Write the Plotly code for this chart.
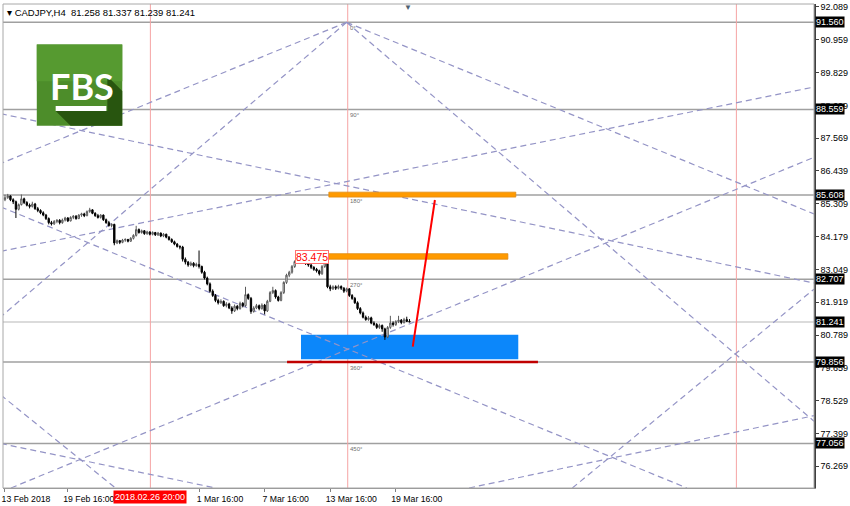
import plotly.graph_objects as go

# ---------------- data ----------------
symbol_title = "CADJPY,H4  81.258 81.337 81.239 81.241"

opens = [85.45,85.52,85.58,85.45,85.38,85.12,85.28,85.48,85.35,85.26,
         85.22,85.30,85.14,85.08,85.00,84.92,84.80,84.66,84.62,84.70,
         84.74,84.66,84.75,84.82,84.72,84.84,84.88,84.80,84.92,84.96,
         84.90,85.04,85.10,84.98,84.90,84.84,84.92,84.76,84.66,84.56,
         84.60,83.96,84.04,83.98,84.06,84.08,84.02,84.12,84.22,84.42,
         84.32,84.38,84.28,84.34,84.26,84.32,84.24,84.30,84.20,84.26,
         84.16,84.08,84.00,83.92,83.84,83.82,83.40,83.30,83.20,83.26,
         83.18,83.22,83.15,82.95,82.75,82.55,82.30,82.15,81.98,81.90,
         81.95,81.80,81.86,81.72,81.62,81.78,81.70,81.88,81.80,82.18,
         82.05,81.60,81.72,81.80,81.70,81.82,81.62,81.95,82.25,82.32,
         82.10,81.98,82.25,82.60,82.85,82.95,83.15,83.32,83.40,83.30,
         83.36,83.25,83.20,83.12,83.05,83.00,82.90,83.15,83.38,82.45,
         82.38,82.45,82.40,82.46,82.40,82.30,82.38,82.15,82.05,81.90,
         81.70,81.55,81.40,81.32,81.38,81.20,81.15,81.05,81.12,81.00,
         80.72,81.05,81.20,81.15,81.25,81.30,81.22,81.32,81.258]
highs = [85.62,85.65,85.60,85.50,85.42,85.32,85.63,85.52,85.40,85.32,
         85.38,85.34,85.20,85.12,85.05,84.96,84.84,84.72,84.75,84.78,
         84.78,84.80,84.86,84.85,84.88,84.92,84.92,84.95,85.00,85.00,
         85.08,85.17,85.12,85.02,84.96,84.95,84.94,84.80,84.72,84.64,
         84.62,84.08,84.06,84.10,84.12,84.10,84.16,84.26,84.55,84.46,
         84.42,84.40,84.38,84.36,84.36,84.34,84.34,84.32,84.30,84.28,
         84.20,84.12,84.04,83.96,83.88,83.86,83.46,83.34,83.32,83.30,
         83.28,83.70,83.18,83.00,82.80,82.60,82.36,82.20,82.04,82.02,
         81.98,81.92,81.90,81.78,81.84,81.82,81.94,81.92,82.45,82.22,
         82.10,81.78,81.86,81.84,81.88,81.86,82.00,82.30,82.45,82.36,
         82.14,82.30,82.64,82.90,83.00,83.20,83.36,83.47,83.44,83.42,
         83.40,83.30,83.24,83.16,83.10,83.04,83.20,83.475,83.40,82.52,
         82.50,82.50,82.52,82.50,82.44,82.42,82.40,82.20,82.10,81.95,
         81.75,81.60,81.46,81.44,81.42,81.26,81.20,81.18,81.15,81.04,
         81.10,81.45,81.26,81.30,81.45,81.34,81.38,81.42,81.337]
lows = [85.40,85.48,85.40,85.30,84.82,85.08,85.25,85.30,85.22,85.15,
        85.18,85.10,85.02,84.95,84.88,84.75,84.60,84.56,84.58,84.64,
        84.60,84.62,84.70,84.68,84.70,84.78,84.76,84.78,84.86,84.85,
        84.88,85.00,84.95,84.86,84.80,84.80,84.72,84.62,84.52,84.50,
        83.88,83.92,83.92,83.95,84.00,83.98,84.00,84.08,84.18,84.28,
        84.28,84.24,84.24,84.22,84.22,84.20,84.20,84.16,84.16,84.12,
        84.04,83.96,83.88,83.80,83.74,83.32,83.22,83.14,83.16,83.12,
        83.14,83.08,82.90,82.70,82.50,82.25,82.10,81.92,81.84,81.86,
        81.76,81.74,81.68,81.52,81.58,81.64,81.66,81.74,81.76,82.00,
        81.52,81.56,81.68,81.64,81.66,81.50,81.58,81.92,82.20,82.04,
        81.94,81.95,82.20,82.55,82.78,82.90,83.10,83.26,83.24,83.26,
        83.20,83.14,83.06,83.00,82.94,82.84,82.86,83.10,82.40,82.30,
        82.34,82.34,82.36,82.34,82.24,82.26,82.10,82.00,81.86,81.65,
        81.50,81.36,81.28,81.28,81.16,81.10,81.00,81.00,80.90,80.62,
        80.68,81.00,81.08,81.10,81.20,81.16,81.18,81.24,81.239]
closes = [85.52,85.58,85.45,85.38,85.12,85.28,85.48,85.35,85.26,85.22,
          85.30,85.14,85.08,85.00,84.92,84.80,84.66,84.62,84.70,84.74,
          84.66,84.75,84.82,84.72,84.84,84.88,84.80,84.92,84.96,84.90,
          85.04,85.10,84.98,84.90,84.84,84.92,84.76,84.66,84.56,84.60,
          83.96,84.04,83.98,84.06,84.08,84.02,84.12,84.22,84.42,84.32,
          84.38,84.28,84.34,84.26,84.32,84.24,84.30,84.20,84.26,84.16,
          84.08,84.00,83.92,83.84,83.82,83.40,83.30,83.20,83.26,83.18,
          83.22,83.15,82.95,82.75,82.55,82.30,82.15,81.98,81.90,81.95,
          81.80,81.86,81.72,81.62,81.78,81.70,81.88,81.80,82.18,82.05,
          81.60,81.72,81.80,81.70,81.82,81.62,81.95,82.25,82.32,82.10,
          81.98,82.25,82.60,82.85,82.95,83.15,83.32,83.40,83.30,83.36,
          83.25,83.20,83.12,83.05,83.00,82.90,83.15,83.38,82.45,82.38,
          82.45,82.40,82.46,82.40,82.30,82.38,82.15,82.05,81.90,81.70,
          81.55,81.40,81.32,81.38,81.20,81.15,81.05,81.12,81.00,80.72,
          81.05,81.20,81.15,81.25,81.30,81.22,81.32,81.258,81.241]
bars = list(range(len(opens)))

# time axis labels (bar index -> label)
time_ticks = [0, 23, 71, 95, 119, 143]
time_labels = ["13 Feb 2018", "19 Feb 16:00", "1 Mar 16:00", "7 Mar 16:00",
               "13 Mar 16:00", "19 Mar 16:00"]

# price axis labels
price_ticks = [92.089, 90.959, 89.829, 88.699, 87.569, 86.439, 85.309, 84.179,
               83.049, 81.919, 80.789, 79.659, 78.529, 77.399, 76.269]

# horizontal levels with degree labels
levels = [91.560, 88.559, 85.608, 82.707, 79.856, 77.056]
level_degrees = ["0°", "90°", "180°", "270°", "360°", "450°"]
bid_price = 81.241

# vertical lines (bar index)
vline_bars = [53.2, 125.4, 267.6]
vline_label = "2018.02.26 20:00"

# Gann-style dashed lines: (bar0, price0) -> (bar1, price1)
gann_x0 = [125, 125, 125, 125, -1.5, -1.5, -1.5, 2.2, -1.5, 169.8, 207.6, -1.5]
gann_p0 = [91.56, 91.56, 91.56, 91.56, 88.41, 83.67, 85.20, 75.52, 78.72, 75.52, 75.52, 77.05]
gann_x1 = [-1.5, -1.5, 296, 296, 296, 296, 249.5, 296, 40.4, 296, 296, 77.1]
gann_p1 = [86.70, 81.42, 84.96, 77.82, 82.58, 89.33, 75.52, 86.91, 75.52, 78.01, 82.37, 75.52]

# zones (bar0, bar1, price_low, price_high)
orange_zones = [(118.5, 186.9, 85.54, 85.71), (118.4, 184.0, 83.40, 83.59)]
blue_zone = (108.3, 187.8, 79.95, 80.80)
support_line = (103.2, 195.0, 79.856)
arrow_line = (149.2, 80.39, 157.3, 85.44)
high_label = (112.4, 83.46, "83.475")

X_RANGE = [-0.727, 296.0]
Y_RANGE = [75.519, 92.191]

# ---------------- figure ----------------
fig = go.Figure()
fig.add_trace(go.Candlestick(
    x=bars, open=opens, high=highs, low=lows, close=closes,
    increasing=dict(line=dict(color="#5a5a5a", width=1), fillcolor="white"),
    decreasing=dict(line=dict(color="black", width=1), fillcolor="black"),
    whiskerwidth=0, showlegend=False, hoverinfo="skip"))

shapes = []
# blue zone (behind)
shapes.append(dict(type="rect", xref="x", yref="y", x0=blue_zone[0], x1=blue_zone[1],
                   y0=blue_zone[2], y1=blue_zone[3], fillcolor="#0c87fa",
                   line=dict(width=0), layer="below"))
# horizontal levels
for lv in levels:
    shapes.append(dict(type="line", xref="paper", yref="y", x0=0, x1=1, y0=lv, y1=lv,
                       line=dict(color="#a0a0a0", width=1.5), layer="below"))
shapes.append(dict(type="line", xref="paper", yref="y", x0=0, x1=1, y0=bid_price, y1=bid_price,
                   line=dict(color="#cfcfcf", width=1.5), layer="below"))
# vertical lines
for vb in vline_bars:
    shapes.append(dict(type="line", xref="x", yref="paper", x0=vb, x1=vb, y0=0, y1=1,
                       line=dict(color="#f5a3a3", width=1), layer="below"))
# gann lines
for a, b, c, d in zip(gann_x0, gann_p0, gann_x1, gann_p1):
    shapes.append(dict(type="line", xref="x", yref="y", x0=a, y0=b, x1=c, y1=d,
                       line=dict(color="#9494c6", width=1.2, dash="6px,4px"), layer="below"))
# orange zones
for z in orange_zones:
    shapes.append(dict(type="rect", xref="x", yref="y", x0=z[0], x1=z[1], y0=z[2], y1=z[3],
                       fillcolor="#ff9a00", line=dict(color="#e08a10", width=0.8), layer="above"))
# support line
shapes.append(dict(type="line", xref="x", yref="y", x0=support_line[0], x1=support_line[1],
                   y0=support_line[2], y1=support_line[2],
                   line=dict(color="#c00000", width=2.5), layer="above"))
# red projection line
shapes.append(dict(type="line", xref="x", yref="y", x0=arrow_line[0], y0=arrow_line[1],
                   x1=arrow_line[2], y1=arrow_line[3],
                   line=dict(color="#ff0000", width=2), layer="above"))

# logo in pixel space converted to paper
def P(px, py):
    return (px - 2) / 816.0, (491 - py) / 489.0

def rect_px(x0, y0, x1, y1, color):
    a = P(x0, y0); b = P(x1, y1)
    return dict(type="rect", xref="paper", yref="paper", x0=a[0], y0=b[1], x1=b[0], y1=a[1],
                fillcolor=color, line=dict(width=0), layer="above")

shapes.append(rect_px(36, 43, 122, 125, "#4d8d2a"))
shapes.append(rect_px(36, 43, 122, 80, "#569a30"))
shadow_pts = [(104, 72), (122, 90), (122, 125), (70, 125), (55, 110), (107, 110), (107, 75)]
path = "M " + " L ".join(f"{P(x, y)[0]:.5f},{P(x, y)[1]:.5f}" for x, y in shadow_pts) + " Z"
shapes.append(dict(type="path", xref="paper", yref="paper", path=path,
                   fillcolor="#28550f", line=dict(width=0), layer="above"))
shapes.append(rect_px(55, 105, 106, 110, "white"))
# outer border
shapes.append(dict(type="rect", xref="paper", yref="paper", x0=0, x1=1, y0=0, y1=1,
                   line=dict(color="#a8a8a8", width=1), layer="above"))

annotations = []
FONT = "Liberation Sans, Arial, sans-serif"
# title
annotations.append(dict(xref="paper", yref="paper", x=0.003, y=1, xanchor="left", yanchor="top",
                        yshift=-1, text="▾ " + symbol_title, showarrow=False,
                        font=dict(family=FONT, size=9.5, color="black")))
# top marker
annotations.append(dict(xref="paper", yref="paper", x=P(409, 0)[0], y=1, xanchor="center",
                        yanchor="top", yshift=3, text="▼", showarrow=False,
                        font=dict(family=FONT, size=8, color="#4f6070")))
# logo text
lx, ly = P(81, 85)
annotations.append(dict(xref="paper", yref="paper", x=lx, y=ly, xanchor="center", yanchor="middle",
                        text="<b>FBS</b>", showarrow=False,
                        font=dict(family="Lato, Roboto, sans-serif", size=36, color="white")))
# price boxes on the right axis
for p in levels[:4] + [bid_price] + levels[4:]:
    annotations.append(dict(xref="paper", yref="y", x=1, y=p, xanchor="left", yanchor="middle",
                            xshift=1, text=f"{p:.3f}", showarrow=False, bgcolor="black",
                            borderpad=0, font=dict(family=FONT, size=9, color="white")))
# degree labels
for lv, t in zip(levels, level_degrees):
    annotations.append(dict(xref="x", yref="y", x=vline_bars[1], y=lv, xanchor="left",
                            yanchor="top", yshift=-1, text=t, showarrow=False,
                            font=dict(family=FONT, size=6, color="#707070")))
# high label
annotations.append(dict(xref="x", yref="y", x=high_label[0], y=high_label[1], text=high_label[2],
                        showarrow=False, bgcolor="white", bordercolor="#ff7070", borderwidth=1,
                        borderpad=0, font=dict(family=FONT, size=10.5, color="#ff0000")))
# vertical-line date label
annotations.append(dict(xref="x", yref="paper", x=vline_bars[0], y=0, yanchor="top", yshift=-2,
                        text=vline_label, showarrow=False, bgcolor="#ff0000", borderpad=1,
                        font=dict(family=FONT, size=9, color="white")))

fig.update_layout(
    width=850, height=506,
    margin=dict(l=2, r=32, t=2, b=15),
    paper_bgcolor="white", plot_bgcolor="white",
    shapes=shapes, annotations=annotations,
    showlegend=False,
    xaxis=dict(range=X_RANGE, rangeslider=dict(visible=False), showgrid=False, zeroline=False,
               tickmode="array", tickvals=time_ticks, ticktext=time_labels,
               ticks="outside", ticklen=3, tickcolor="#808080", ticklabelshift=21,
               ticklabeloverflow="allow",
               showline=True, linecolor="#909090", linewidth=1,
               tickfont=dict(family=FONT, size=8.7, color="black")),
    yaxis=dict(range=Y_RANGE, side="right", showgrid=False, zeroline=False,
               tickmode="array", tickvals=price_ticks,
               ticktext=[f"{v:.3f}" for v in price_ticks],
               ticks="outside", ticklen=3, tickcolor="#404040",
               showline=True, linecolor="#404040", linewidth=1.5,
               tickfont=dict(family=FONT, size=9, color="black")),
)

fig.write_html("out.html", config={"displayModeBar": False},
               post_script="document.body.style.margin='0';document.body.style.overflow='hidden';")
